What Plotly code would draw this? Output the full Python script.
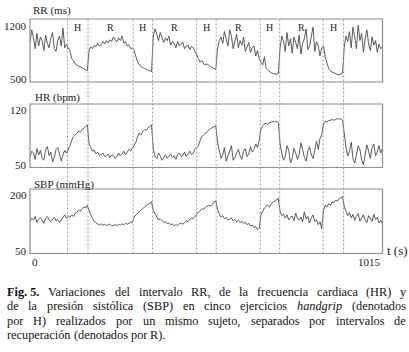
import plotly.graph_objects as go

W, H = 409, 352
SERIF = "Liberation Serif"

# ---------------- data ----------------
t_s = list(range(0, 1016, 5))  # sampling grid, seconds

rr_ms = [
    # rest 0-105
    940, 1080, 990, 870, 1040, 900, 1000, 960, 850, 1020, 930, 880, 990, 1050, 870, 840, 960, 1010, 900, 1100, 880, 920,
    # H1 110-165
    880, 850, 760, 740, 700, 690, 680, 670, 660, 650, 640, 625,
    # R1 170-295
    850, 890, 870, 905, 895, 930, 900, 915, 950, 925, 960, 935, 970, 950, 1000, 965, 945, 990, 960, 1010, 930, 950, 900, 915, 870, 880,
    # H2 300-350
    850, 780, 720, 690, 670, 660, 650, 640, 630, 625, 615,
    # R2 355-480
    1010, 1090, 1030, 960, 1050, 1000, 940, 990, 960, 1010, 910, 950, 930, 880, 950, 900, 920, 940, 870, 900, 910, 860, 900, 880, 840, 790,
    # H3 485-535
    760, 720, 740, 700, 690, 700, 680, 670, 660, 650, 640,
    # R3 540-660
    870, 960, 1000, 930, 1060, 980, 900, 1080, 1010, 870, 950, 1030, 880, 960, 910, 1000, 840, 890, 940, 830, 880, 900, 790, 850, 760,
    # H4 665-715
    720, 690, 780, 650, 630, 610, 600, 595, 590, 585, 590,
    # R4 720-840
    880, 1010, 950, 840, 1050, 900, 980, 820, 1000, 940, 870, 1020, 810, 930, 980, 1090, 860, 900, 1000, 1110, 840, 950, 900, 790, 880,
    # H5 845-900
    900, 780, 700, 650, 620, 610, 600, 590, 585, 580, 590, 600,
    # R5 905-1015
    900, 1010, 950, 1060, 880, 1110, 1000, 870, 1130, 960, 1040, 830, 980, 1080, 920, 850, 1000, 910, 960, 830, 920, 870, 890,
]

hr_bpm = [
    62, 68, 66, 59, 71, 64, 69, 60, 58, 70, 73, 63, 67, 56, 61, 70, 72, 65, 57, 64, 69, 66,
    70, 74, 80, 84, 86, 88, 90, 89, 92, 93, 95, 97,
    76, 71, 68, 69, 65, 67, 63, 64, 66, 62, 63, 65, 61, 64, 63, 60, 62, 66, 63, 65, 68, 64, 67, 70, 68, 72,
    74, 78, 84, 88, 86, 90, 92, 91, 94, 95, 97,
    70, 62, 60, 66, 63, 58, 61, 64, 60, 62, 65, 61, 63, 59, 64, 66, 62, 63, 67, 62, 65, 68, 64, 66, 70, 72,
    74, 80, 84, 86, 88, 90, 91, 93, 94, 95, 96,
    78, 70, 60, 64, 72, 57, 62, 69, 74, 58, 61, 66, 70, 63, 59, 68, 71, 62, 65, 73, 67, 70, 76, 72, 80,
    92, 96, 98, 99, 97, 100, 100, 101, 100, 101, 100,
    76, 66, 58, 62, 74, 69, 55, 60, 71, 66, 59, 64, 77, 70, 61, 57, 68, 73, 64, 60, 72, 79, 70, 82, 86,
    98, 101, 100, 102, 102, 103, 102, 103, 104, 103, 104, 102,
    84, 72, 63, 68, 78, 60, 55, 66, 74, 70, 58, 53, 64, 75, 68, 60, 72, 76, 63, 67, 74, 66, 71,
]

sbp_mmhg = [
    124, 132, 128, 136, 122, 130, 134, 126, 120, 132, 136, 128, 124, 130, 134, 126, 129, 122, 127, 134, 140, 132,
    138, 134, 140, 136, 144, 146, 150, 148, 154, 158, 156, 162,
    150, 140, 131, 125, 121, 119, 117, 119, 116, 118, 115, 116, 118, 114, 116, 117, 115, 118, 116, 119, 117, 120, 118, 121, 123, 122,
    134, 140, 144, 148, 152, 156, 158, 162, 164, 168, 170,
    150, 142, 133, 128, 131, 125, 122, 124, 119, 121, 117, 119, 114, 117, 115, 119, 121, 118, 123, 126, 124, 129, 133, 131, 137, 142,
    146, 150, 154, 152, 158, 160, 162, 160, 166, 170, 172,
    152, 142, 135, 138, 131, 134, 128, 130, 133, 126, 129, 124, 127, 122, 125, 120, 123, 117, 120, 114, 116, 110, 113, 105, 109,
    140, 150, 156, 160, 162, 158, 166, 170, 172, 176, 178,
    148, 138, 142, 132, 140, 128, 134, 137, 126, 144, 131, 128, 135, 124, 147, 130, 136, 121, 133, 140, 125, 128, 117, 124, 108,
    150, 162, 158, 166, 162, 170, 168, 174, 172, 178, 180, 182,
    158, 148, 138, 145, 133, 141, 127, 137, 143, 125, 132, 140, 128, 122, 138, 131, 125, 141, 129, 134, 121, 127, 119,
]

phase_bounds_s = [108, 167, 297, 353, 480, 536, 663, 719, 844, 903]
phase_labels = ["H", "R", "H", "R", "H", "R", "H", "R", "H"]
panel_titles = ["RR (ms)", "HR (bpm)", "SBP (mmHg)"]
y_ranges = [(500, 1200), (50, 120), (50, 200)]
t_range = (0, 1015)

caption_lines = [
    [("Fig. 5.", "b"), ("Variaciones", ""), ("del", ""), ("intervalo", ""), ("RR,", ""), ("de", ""), ("la", ""),
     ("frecuencia", ""), ("cardiaca", ""), ("(HR)", ""), ("y", "")],
    [("de", ""), ("la", ""), ("presión", ""), ("sistólica", ""), ("(SBP)", ""), ("en", ""), ("cinco", ""),
     ("ejercicios", ""), ("handgrip", "i"), ("(denotados", "")],
    [("por", ""), ("H)", ""), ("realizados", ""), ("por", ""), ("un", ""), ("mismo", ""), ("sujeto,", ""),
     ("separados", ""), ("por", ""), ("intervalos", ""), ("de", "")],
    [("recuperación", ""), ("(denotados", ""), ("por", ""), ("R).", "")],
]

# ---------------- layout geometry (pixels) ----------------
x_px = (30, 382.5)
panels_px = [(19, 82), (104, 167.5), (189, 253.5)]  # top, bottom


def ydom(top, bot):
    return [1 - bot / H, 1 - top / H]


fig = go.Figure()
series = [rr_ms, hr_bpm, sbp_mmhg]
yaxes = ["y", "y2", "y3"]
for s, ya in zip(series, yaxes):
    fig.add_trace(go.Scatter(x=t_s, y=s, mode="lines", xaxis="x", yaxis=ya,
                             line=dict(color="#484848", width=0.9), hoverinfo="skip",
                             showlegend=False))

layout = dict(
    width=W, height=H, autosize=False,
    margin=dict(l=0, r=0, t=0, b=0),
    paper_bgcolor="white", plot_bgcolor="white",
    showlegend=False,
    font=dict(family=SERIF),
    xaxis=dict(domain=[x_px[0] / W, x_px[1] / W], range=list(t_range), visible=False,
               anchor="y3", fixedrange=True),
)
for i, ((top, bot), yr) in enumerate(zip(panels_px, y_ranges)):
    key = "yaxis" if i == 0 else f"yaxis{i + 1}"
    layout[key] = dict(domain=ydom(top, bot), range=list(yr), visible=False,
                       anchor="x", fixedrange=True)
fig.update_layout(**layout)

shapes = []
for ya in yaxes:
    shapes.append(dict(type="rect", xref="x domain", yref=f"{ya} domain", x0=0, x1=1, y0=0, y1=1,
                       line=dict(color="#8c8c8c", width=1.2), layer="above"))
y_low = ydom(*panels_px[2])[0]
y_high = ydom(*panels_px[0])[1]
for b in phase_bounds_s:
    shapes.append(dict(type="line", xref="x", yref="paper", x0=b, x1=b, y0=y_low, y1=y_high,
                       line=dict(color="#9a9a9a", width=1, dash="2px,2px")))
fig.update_layout(shapes=shapes)

ann = []


def txt(text, x, y, size, xref="paper", yref="paper", xanchor="left", yanchor="middle",
        color="#222222", yshift=0):
    return dict(text=text, x=x, y=y, xref=xref, yref=yref, xanchor=xanchor, yanchor=yanchor,
                showarrow=False, yshift=yshift,
                font=dict(family=SERIF, size=size, color=color))


title_pos = [(30.5, 10), (33, 98), (32, 184)]
for name, (px, py) in zip(panel_titles, title_pos):
    ann.append(txt(name, px / W, 1 - py / H, 11))

top_shift = [-7, -6, -5.5]
for i, (yr, ya) in enumerate(zip(y_ranges, yaxes)):
    ann.append(txt(str(yr[1]), 28.5 / W, yr[1], 11, yref=ya, xanchor="right", yshift=top_shift[i]))
    ann.append(txt(str(yr[0]), 28.5 / W, yr[0], 11, yref=ya, xanchor="right", yshift=3))

for k, lab in enumerate(phase_labels):
    mid = (phase_bounds_s[k] + phase_bounds_s[k + 1]) / 2
    ann.append(txt(lab, mid, 1 - 9 / 63, 10, xref="x", yref="y domain", xanchor="center"))

ann.append(txt(str(t_range[0]), t_range[0], 1 - 261.5 / H, 11, xref="x", xanchor="left"))
ann.append(txt(str(t_range[1]), t_range[1], 1 - 262 / H, 11, xref="x", xanchor="right"))
ann.append(txt("t (s)", 384.5 / W, 1 - 250 / H, 13))

TW = {' ': 250, '(': 333, ')': 333, ',': 250, '.': 250, '5': 500,
      'a': 444, 'b': 500, 'c': 444, 'd': 500, 'e': 444, 'f': 333, 'g': 500, 'h': 500, 'i': 278,
      'j': 278, 'l': 278, 'm': 778, 'n': 500, 'o': 500, 'p': 500, 'q': 500, 'r': 333, 's': 389,
      't': 278, 'u': 500, 'v': 500, 'y': 500, 'z': 444, 'ó': 500, 'á': 444, 'í': 278,
      'V': 722, 'R': 667, 'H': 722, 'S': 556, 'B': 667, 'P': 556, 'F': 556}
TW_B = {'F': 611, 'i': 278, 'g': 500, '.': 250, ' ': 250, '5': 500}
TW_I = {'h': 500, 'a': 500, 'n': 500, 'd': 500, 'g': 500, 'r': 389, 'i': 278, 'p': 500}


def word_w(w, style, fs):
    table = TW_B if style == "b" else TW_I if style == "i" else TW
    return sum(table.get(c, TW.get(c, 500)) for c in w) * fs / 1000


CAP_FS = 12.3
cap_left, cap_right = 5, 404
line_y = [291.5, 306, 320.5, 335]
for li, (words, ly) in enumerate(zip(caption_lines, line_y)):
    widths = [word_w(w, s, CAP_FS) for w, s in words]
    last = li == len(caption_lines) - 1
    if last:
        gap = 250 * CAP_FS / 1000
    else:
        gap = (cap_right - cap_left - sum(widths)) / (len(words) - 1)
    xc = cap_left
    for (w, s), ww in zip(words, widths):
        t = f"<b>{w}</b>" if s == "b" else f"<i>{w}</i>" if s == "i" else w
        ann.append(txt(t, xc / W, 1 - ly / H, CAP_FS, color="#111111"))
        xc += ww + gap

fig.update_layout(annotations=ann)

fig.write_html("out.html", config={"displayModeBar": False},
               post_script="document.body.style.margin='0';")
